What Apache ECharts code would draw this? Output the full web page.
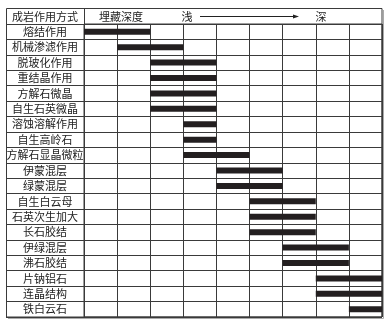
<!DOCTYPE html>
<html><head><meta charset="utf-8">
<script src="https://cdn.jsdelivr.net/npm/echarts@6/dist/echarts.min.js"></script>
<style>html,body{margin:0;padding:0;background:#fff}#c{width:387px;height:326px}</style>
</head><body><div id="c"></div>
<script>
const processes = ['熔结作用','机械渗滤作用','脱玻化作用','重结晶作用','方解石微晶','自生石英微晶','溶蚀溶解作用','自生高岭石','方解石显晶微粒','伊蒙混层','绿蒙混层','自生白云母','石英次生加大','长石胶结','伊绿混层','沸石胶结','片钠铝石','连晶结构','铁白云石'];
const startStage = [0,1,2,2,2,2,3,3,3,4,4,5,5,5,6,6,7,7,8];
const endStage   = [2,3,4,4,4,4,4,4,5,6,6,7,7,7,8,8,9,9,9];
const stageCount = 9;
const headerTitle = '成岩作用方式';
const depthLabel = '埋藏深度', shallowLabel = '浅', deepLabel = '深';

const chart = echarts.init(document.getElementById('c'), null, {renderer:'canvas'});
const font = '"Noto Sans CJK SC", sans-serif';
const lineC = '#3a3a3a';
chart.setOption({
  animation:false,
  grid:{left:84, right:5, top:24, bottom:9, show:true, borderColor:lineC, borderWidth:1},
  xAxis:{type:'value', min:0, max:stageCount, interval:1,
    axisLine:{show:false}, axisTick:{show:false}, axisLabel:{show:false},
    splitLine:{show:true, lineStyle:{color:lineC, width:1}}},
  yAxis:{type:'category', inverse:true, data:processes,
    axisLine:{show:true, lineStyle:{color:lineC}},
    axisTick:{show:true, length:78, lineStyle:{color:lineC}},
    splitLine:{show:true, lineStyle:{color:lineC, width:1}},
    axisLabel:{margin:39, align:'center', color:'#222', fontSize:11, fontFamily:font}},
  series:[
    {type:'bar', stack:'s', barWidth:6, itemStyle:{color:'transparent'}, silent:true,
     data:startStage},
    {type:'bar', stack:'s', barWidth:6, itemStyle:{color:'#231f20'},
     data:endStage.map((e,i)=>e-startStage[i])}
  ],
  graphic:[
    {type:'rect', shape:{x:6.5, y:8.5, width:375.5, height:308.5}, style:{fill:null, stroke:lineC, lineWidth:1}},
    {type:'line', shape:{x1:383.5, y1:10, x2:383.5, y2:318.5}, style:{stroke:'#aaa', lineWidth:1}},
    {type:'line', shape:{x1:8, y1:318.5, x2:383.5, y2:318.5}, style:{stroke:'#aaa', lineWidth:1}},
    {type:'line', shape:{x1:84.5, y1:8, x2:84.5, y2:24}, style:{stroke:lineC, lineWidth:1}},
    {type:'text', style:{text:headerTitle, x:45, y:16.5, align:'center', verticalAlign:'middle', font:'11px '+font, fill:'#222'}},
    {type:'text', style:{text:depthLabel, x:121, y:16.5, align:'center', verticalAlign:'middle', font:'11px '+font, fill:'#222'}},
    {type:'text', style:{text:shallowLabel, x:187, y:16.5, align:'center', verticalAlign:'middle', font:'11px '+font, fill:'#222'}},
    {type:'text', style:{text:deepLabel, x:321, y:16.5, align:'center', verticalAlign:'middle', font:'11px '+font, fill:'#222'}},
    {type:'line', shape:{x1:200, y1:16.5, x2:294, y2:16.5}, style:{stroke:'#222', lineWidth:1}},
    {type:'polygon', shape:{points:[[293,14.5],[299,16.5],[293,18.5]]}, style:{fill:'#222'}}
  ]
});
</script></body></html>
